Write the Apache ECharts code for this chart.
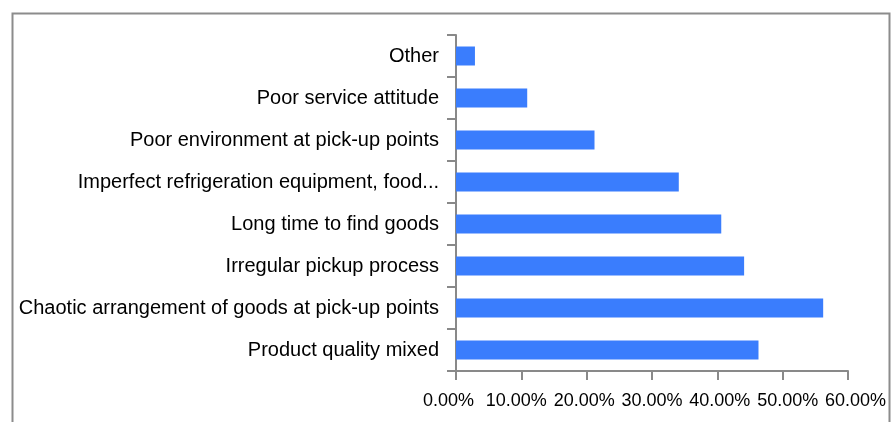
<!DOCTYPE html>
<html>
<head>
<meta charset="utf-8">
<script src="https://cdn.jsdelivr.net/npm/echarts@6/dist/echarts.min.js"></script>
<style>
html,body{margin:0;padding:0;background:#fff;}
#chart{width:891px;height:422px;}
</style>
</head>
<body>
<div id="chart"></div>
<script>
// Categories listed bottom to top
const categories = [
  "Product quality mixed",
  "Chaotic arrangement of goods at pick-up points",
  "Irregular pickup process",
  "Long time to find goods",
  "Imperfect refrigeration equipment, food...",
  "Poor environment at pick-up points",
  "Poor service attitude",
  "Other"
];
const percentages = [46.3, 56.2, 44.1, 40.6, 34.1, 21.2, 10.9, 2.9];
const axisMin = 0;
const axisMax = 60;
const axisStep = 10;

const chart = echarts.init(document.getElementById('chart'), null, {renderer: 'canvas'});
const axisColor = '#898989';
const fontFamily = 'Liberation Sans, Arial, sans-serif';
chart.setOption({
  animation: false,
  backgroundColor: '#ffffff',
  graphic: [{
    type: 'rect',
    shape: {x: 12.5, y: 13.5, width: 877, height: 460},
    style: {fill: 'none', stroke: '#8c8c8c', lineWidth: 2},
    silent: true
  }],
  grid: [
    {left: 456, right: 43, top: 35, bottom: 51, containLabel: false},
    // label-only grid: tick labels in the reference are spread slightly wider than the ticks
    {left: 448.5, right: 35.5, top: 35, bottom: 51, containLabel: false}
  ],
  xAxis: [{
    type: 'value',
    gridIndex: 0,
    min: axisMin, max: axisMax, interval: axisStep,
    splitLine: {show: false},
    axisLine: {show: true, lineStyle: {color: axisColor, width: 2}},
    axisTick: {show: true, length: 9, lineStyle: {color: axisColor, width: 2}},
    axisLabel: {show: false}
  }, {
    type: 'value',
    gridIndex: 1,
    min: axisMin, max: axisMax, interval: axisStep,
    splitLine: {show: false},
    axisLine: {show: false},
    axisTick: {show: false},
    axisLabel: {
      color: '#000', fontSize: 18, fontFamily: fontFamily,
      margin: 21, hideOverlap: false,
      formatter: v => v.toFixed(2) + '%'
    }
  }],
  yAxis: [{
    type: 'category',
    gridIndex: 0,
    data: categories,
    axisLine: {show: true, lineStyle: {color: axisColor, width: 2}},
    axisTick: {show: true, length: 9, lineStyle: {color: axisColor, width: 2}},
    axisLabel: {
      color: '#000', fontSize: 20, fontFamily: fontFamily,
      margin: 17, interval: 0
    }
  }, {
    type: 'category',
    gridIndex: 1,
    data: categories,
    show: false
  }],
  series: [{
    type: 'bar',
    xAxisIndex: 0, yAxisIndex: 0,
    data: percentages,
    barWidth: 19,
    itemStyle: {color: '#3a7dfd'}
  }]
});
</script>
</body>
</html>
